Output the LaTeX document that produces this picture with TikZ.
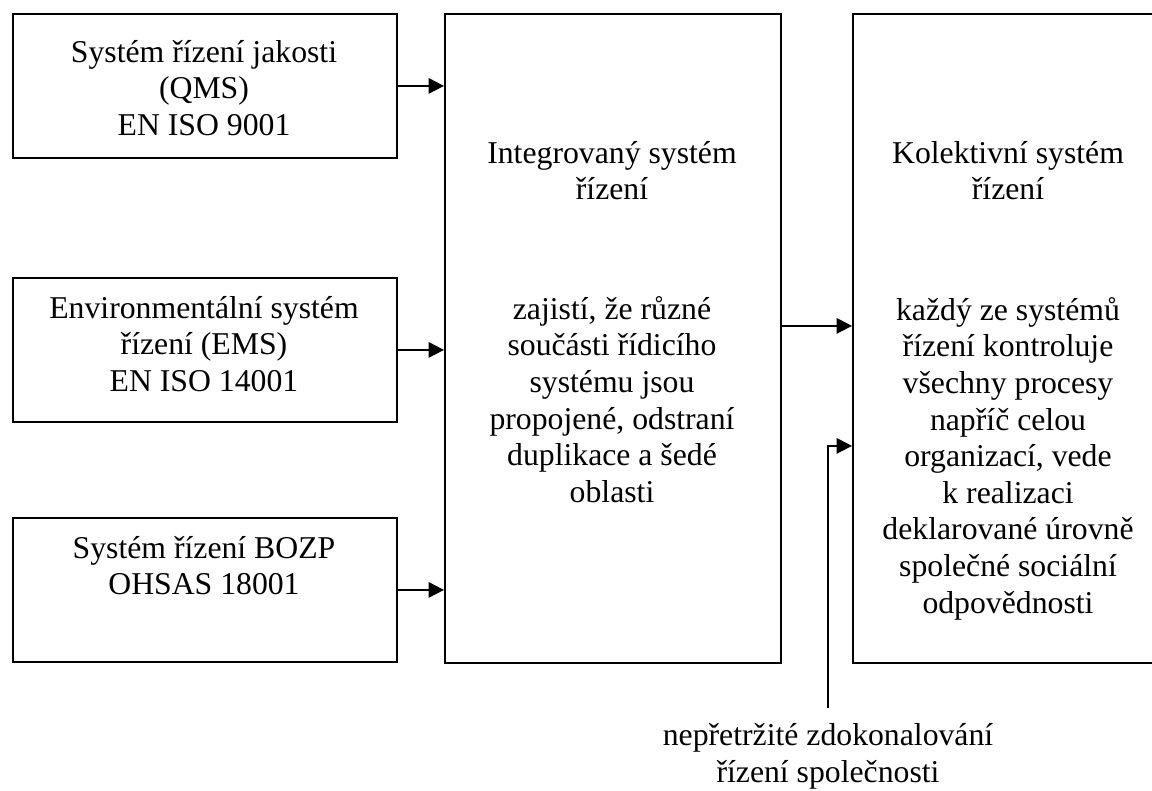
\documentclass[tikz,border=0pt]{standalone}
\usepackage{fontspec}
\setmainfont{Liberation Serif}
\usetikzlibrary{arrows.meta}
\begin{document}
\begin{tikzpicture}[x=0.75pt,y=-0.75pt,
  box/.style={draw=black, line width=1.4pt, inner sep=0pt, anchor=north west},
  lbl/.style={anchor=north, inner sep=0pt, align=center, text=black, font=\fontsize{23.8pt}{27.45pt}\selectfont},
  arr/.style={draw=black, line width=1.4pt, -{Triangle[length=11.5pt,width=11.5pt]}}]
\useasboundingbox[fill=white] (0,0) rectangle (1152,791);
% boxes
\node[box, minimum width=288pt, minimum height=108pt] (qms) at (12,13) {};
\node[box, minimum width=288pt, minimum height=108pt] (ems) at (12,277) {};
\node[box, minimum width=288pt, minimum height=108pt] (bozp) at (12,517) {};
\node[box, minimum width=252pt, minimum height=486.75pt] (isr) at (444,13) {};
\node[box, minimum width=234pt, minimum height=486.75pt] (ks) at (852,13) {};
% texts
\node[lbl] (tqms) at (204,36.4) {\strut Systém řízení jakosti\\(QMS)\\EN ISO 9001};
\node[lbl] (tems) at (204,292.4) {\strut Environmentální systém\\řízení (EMS)\\EN ISO 14001};
\node[lbl] (tbozp) at (204,532.4) {\strut Systém řízení BOZP\\OHSAS 18001};
\node[lbl] (tisr) at (612,137.4) {\strut Integrovaný systém\\řízení};
\node[lbl] (disr) at (612,293.4) {\strut zajistí, že různé\\součásti řídicího\\systému jsou\\propojené, odstraní\\duplikace a šedé\\oblasti};
\node[lbl] (tks) at (1008,137.4) {\strut Kolektivní systém\\řízení};
\node[lbl] (dks) at (1008,294.4) {\strut každý ze systémů\\řízení kontroluje\\všechny procesy\\napříč celou\\organizací, vede\\k realizaci\\deklarované úrovně\\společné sociální\\odpovědnosti};
\node[lbl] (foot) at (828,720) {\strut nepřetržité zdokonalování\\řízení společnosti};
% connectors
\draw[arr] (qms.east) -- (qms.east -| isr.west);
\draw[arr] (ems.east) -- (ems.east -| isr.west);
\draw[arr] (bozp.east) -- (bozp.east -| isr.west);
\coordinate (iout) at ([yshift=9.4pt]isr.east);
\draw[arr] (iout) -- (iout -| ks.west);
\coordinate (fb) at (828,708);
\coordinate (kin) at ([yshift=-80.6pt]ks.west);
\draw[arr] (fb) |- (kin);
\end{tikzpicture}
\end{document}
